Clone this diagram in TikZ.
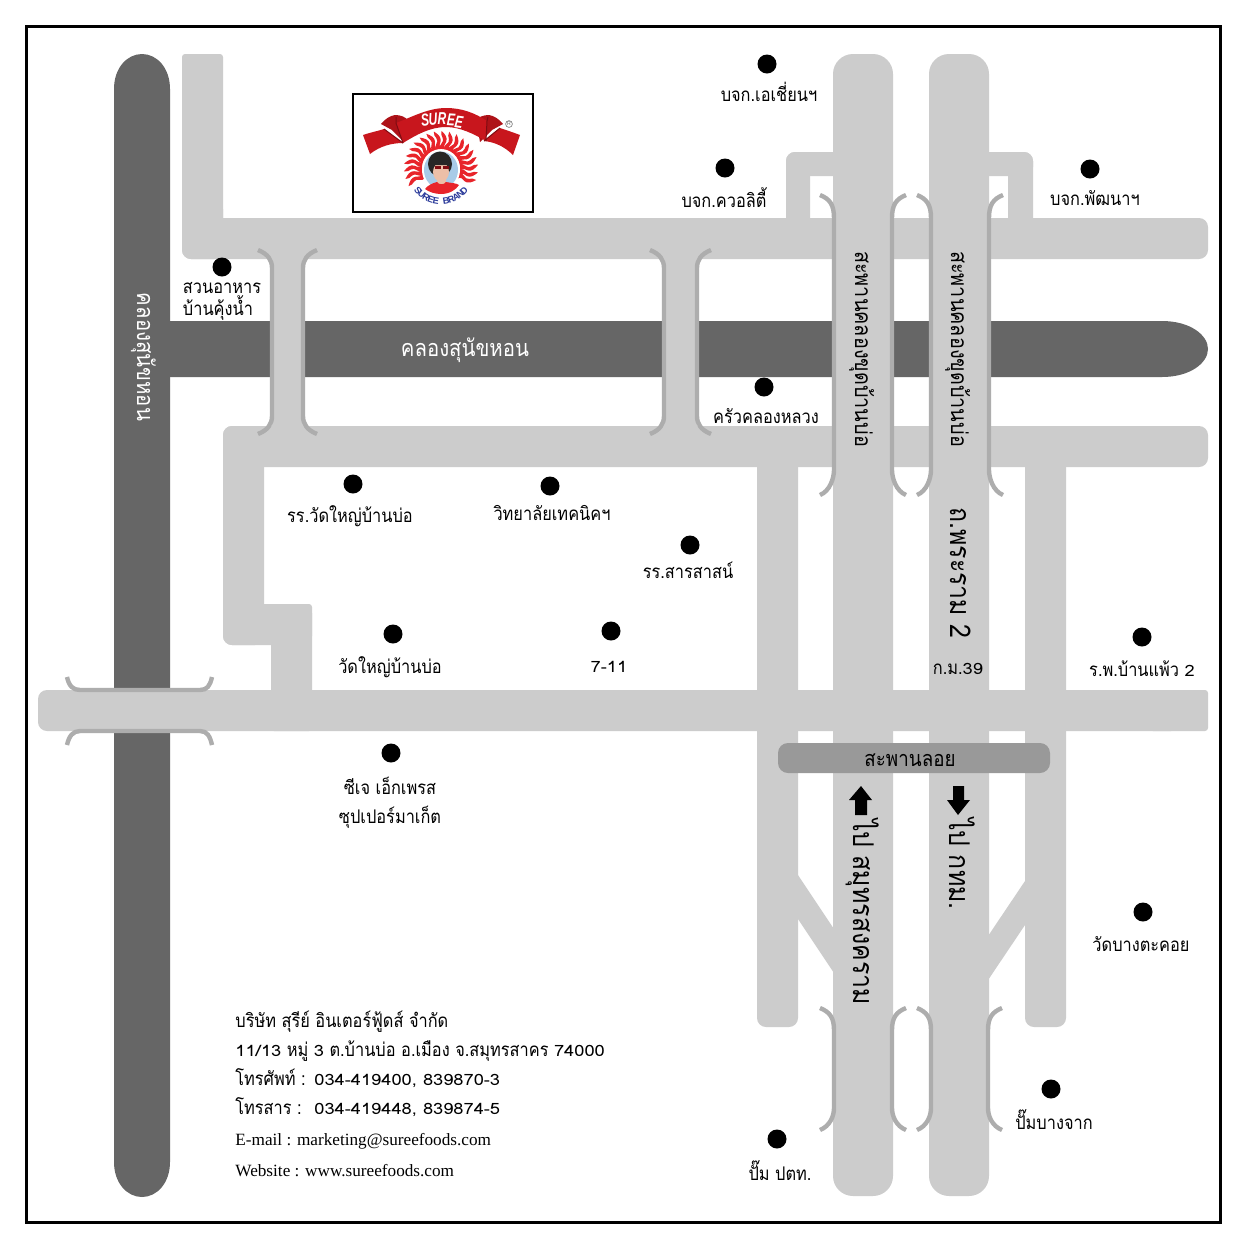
\documentclass[tikz,border=0pt]{standalone}
\usepackage{fontspec}
\setmainfont[Script=Thai,FakeStretch=0.87]{Loma}
\newfontfamily\digitfont[Script=Thai,FakeStretch=1.17]{Loma}
\newfontfamily\logofont{Liberation Sans}
\newfontfamily\latinfont{Liberation Serif}
\newcommand{\dgt}[1]{{\digitfont\fontsize{7.8}{9}\selectfont #1}}
\definecolor{roadc}{HTML}{CCCCCC}
\definecolor{canalc}{HTML}{666666}
\definecolor{brc}{HTML}{ADADAD}
\definecolor{flyc}{HTML}{999999}
\definecolor{ribbonc}{HTML}{C8161D}
\definecolor{ribbonm}{HTML}{AE1218}
\definecolor{ribbond}{HTML}{7E0C12}
\definecolor{flamec}{HTML}{E8242A}
\definecolor{brandc}{HTML}{2A3A9A}
\definecolor{skyc}{HTML}{A8CBE8}
\definecolor{skinc}{HTML}{EDBFA8}
\tikzset{
  road/.style={fill=roadc,rounded corners=4.5pt},
  tinyroad/.style={fill=roadc,rounded corners=1.5pt},
  mainroad/.style={fill=roadc,rounded corners=10pt},
  canal/.style={fill=canalc},
  bracket/.style={draw=brc,line width=2.2pt,fill=none},
  dot/.style={circle,fill=black,minimum size=9.5pt,inner sep=0pt},
  lab/.style={anchor=base,inner sep=0pt,font=\fontsize{9.4}{9.4}\selectfont,text=black},
  addr/.style={anchor=base west,inner sep=0pt,font=\fontsize{9.4}{9.4}\selectfont,text=black},
  addrl/.style={anchor=base west,inner sep=0pt,font=\latinfont\fontsize{8.6}{8.6}\selectfont,text=black},
  vlab/.style={anchor=base,inner sep=0pt,rotate=-90,text=black,font=\fontsize{14.3}{14.3}\selectfont},
  brlab/.style={vlab,font=\fontsize{11.4}{11.4}\selectfont},
  wlab/.style={text=white,font=\fontsize{11.7}{11.7}\selectfont},
}
\newcommand{\vbridge}[6]{%
  \draw[bracket] ({#1-14},#3) .. controls ({#1-4},{#3+4}) and (#1,{#3+10}) .. (#1,#4) -- (#1,#5) .. controls (#1,{#5+8}) and ({#1-4},{#6-4}) .. ({#1-14},#6);
  \draw[bracket] ({#2+14},#3) .. controls ({#2+4},{#3+4}) and (#2,{#3+10}) .. (#2,#4) -- (#2,#5) .. controls (#2,{#5+8}) and ({#2+4},{#6-4}) .. ({#2+14},#6);
}
\begin{document}
\begin{tikzpicture}[x=0.5pt,y=-0.5pt]
\path[use as bounding box,fill=white] (0,0) rectangle (1250,1250);
% canals
\fill[canal] (170,321) -- (1162,321) .. controls (1190,321) and (1208,335) .. (1208,349) .. controls (1208,363) and (1190,377) .. (1162,377) -- (170,377) -- cycle;
\fill[canal] (114,89) .. controls (114,68) and (127,54) .. (142,54) .. controls (157,54) and (170,68) .. (170,89) -- (170,1162) .. controls (170,1183) and (157,1197) .. (142,1197) .. controls (127,1197) and (114,1183) .. (114,1162) -- cycle;
% roads
\fill[tinyroad] (182,54) rectangle (223,240);
\fill[road] (182,200) rectangle (223,259);
\fill[road] (182,218) rectangle (1208,259);
\fill[road] (223,426) rectangle (1208,467);
\fill[road] (223,426) rectangle (264,645);
\fill[road] (223,604) rectangle (312,645);
\fill[tinyroad] (271,604) rectangle (312,731);
\fill[road] (38,690) rectangle (1180,731);
\fill[tinyroad] (1150,690) rectangle (1208,731);
\fill[road] (757,440) rectangle (798,1027);
\fill[road] (1025,440) rectangle (1066,1027);
\fill[road] (786,152) rectangle (850,176);
\fill[road] (786,152) rectangle (810,235);
\fill[road] (970,152) rectangle (1033,176);
\fill[road] (1008,152) rectangle (1033,235);
\fill[roadc] (798,875) -- (840,938) -- (840,982) -- (798,919) -- cycle;
\fill[roadc] (1025,881) -- (980,948) -- (980,992) -- (1025,925) -- cycle;
\fill[mainroad] (833,54) rectangle (893,1196);
\fill[mainroad] (929,54) rectangle (989,1196);
\fill[roadc] (272,250) rectangle (304,434);
\fill[roadc] (663,250) rectangle (697,434);
% bridge brackets
\vbridge{272}{303}{250}{268}{416}{434}
\vbridge{664}{697}{250}{268}{416}{434}
\vbridge{834}{892}{195}{218}{470}{495}
\vbridge{931}{989}{195}{218}{470}{495}
\vbridge{834}{892}{1008}{1030}{1108}{1130}
\vbridge{931}{988}{1008}{1030}{1108}{1130}
\draw[bracket] (67,677) .. controls (69,686) and (73,690) .. (80,690) -- (200,690) .. controls (207,690) and (210,686) .. (212,677);
\draw[bracket] (67,745) .. controls (69,736) and (73,731) .. (80,731) -- (200,731) .. controls (207,731) and (210,736) .. (212,745);
% floating bridge
\fill[flyc,rounded corners=5pt] (778,743) rectangle (1050,773);
\node[lab,font=\fontsize{10.8}{10.8}\selectfont] (fly) at (910,766) {สะพานลอย};
% arrows
\fill[black] (861,786) -- (872,800) -- (867,800) -- (867,815) -- (855,815) -- (855,800) -- (849,800) -- cycle;
\fill[black] (953,786) -- (964,786) -- (964,800) -- (970,800) -- (958,815) -- (947,800) -- (953,800) -- cycle;
% labels on canals
\node[lab,wlab] (canalh) at (465,356) {คลองสุนัขหอน};
\node[vlab,wlab] (canalv) at (137,357) {คลองสุนัขหอน};
% labels on main roads
\node[brlab] (br1) at (855,349) {สะพานคลองขุดบ้านบ่อ};
\node[brlab] (br2) at (951,349) {สะพานคลองขุดบ้านบ่อ};
\node[vlab] (rama) at (950,573) {ถ.พระราม 2};
\node[vlab] (tosk) at (853,912) {ไป สมุทรสงคราม};
\node[vlab] (tobk) at (949,864) {ไป กทม.};
% dots
\foreach \n/\x/\y in {a/767/64,b/725/168,c/1090/169,d/222/267,e/764/387,f/353/484,g/550/486,h/690/545,i/393/634,j/611/631,k/1142/637,l/391/753,m/1143/912,n/1051/1089,o/777/1139}
  \node[dot] (dot\n) at (\x,\y) {};
% place labels
\node[lab] (la) at (769,101) {บจก.เอเชี่ยนฯ};
\node[lab] (lb) at (724,207) {บจก.ควอลิตี้};
\node[lab] (lc) at (1095,205) {บจก.พัฒนาฯ};
\node[lab] (ld1) at (222,293) {สวนอาหาร};
\node[lab] (ld2) at (218,315) {บ้านคุ้งน้ำ};
\node[lab] (le) at (766,423) {ครัวคลองหลวง};
\node[lab] (lf) at (350,522) {รร.วัดใหญ่บ้านบ่อ};
\node[lab] (lg) at (552,520) {วิทยาลัยเทคนิคฯ};
\node[lab] (lh) at (688,578) {รร.สารสาสน์};
\node[lab] (li) at (390,673) {วัดใหญ่บ้านบ่อ};
\node[lab] (lj) at (609,672) {\dgt{7-11}};
\node[lab] (lkm) at (958,674) {ก.ม.\dgt{39}};
\node[lab] (lk) at (1142,676) {ร.พ.บ้านแพ้ว \dgt{2}};
\node[lab] (ll1) at (390,794) {ซีเจ เอ็กเพรส};
\node[lab] (ll2) at (390,823) {ซุปเปอร์มาเก็ต};
\node[lab] (lm) at (1141,951) {วัดบางตะคอย};
\node[lab] (ln) at (1054,1129) {ปั๊มบางจาก};
\node[lab] (lo) at (780,1180) {ปั๊ม ปตท.};
% address
\node[addr] (ad1) at (235,1027) {บริษัท สุรีย์ อินเตอร์ฟู้ดส์ จำกัด};
\node[addr] (ad2) at (235,1056) {\dgt{11/13} หมู่ \dgt{3} ต.บ้านบ่อ อ.เมือง จ.สมุทรสาคร \dgt{74000}};
\node[addr] (ad3) at (235,1085) {โทรศัพท์ :};
\node[addr] (ad3n) at (314,1085) {\dgt{034-419400, 839870-3}};
\node[addr] (ad4) at (235,1114) {โทรสาร :};
\node[addr] (ad4n) at (314,1114) {\dgt{034-419448, 839874-5}};
\node[addrl] (ad5) at (235,1145) {E-mail : marketing@sureefoods.com};
\node[addrl] (ad6) at (235,1176) {Website : www.sureefoods.com};
% logo
\draw[black,line width=1pt,fill=white] (353,94) rectangle (533,212);
\foreach \a in {-25,-13,...,205}{
  \begin{scope}[shift={(441,168)},rotate=\a]
    \fill[flamec] (19,-3) .. controls (23,-6) and (26,1) .. (30,-2) .. controls (32,-3) and (34,-5) .. (37,-4) .. controls (34,0) and (31,3) .. (27,2) .. controls (24,1) and (22,-1) .. (19,3) -- cycle;
  \end{scope}
}
% ribbon
\fill[ribbonm] (381,124) .. controls (386,118) and (390,116) .. (395,115) .. controls (401,115) and (405,117) .. (408,120) -- (404,142) -- (392,130) -- cycle;
\fill[ribbonm] (503,124) .. controls (498,118) and (494,116) .. (489,115) .. controls (483,115) and (479,117) .. (476,120) -- (480,142) -- (492,130) -- cycle;
\fill[ribbonc] (363,135) .. controls (372,132) and (378,131) .. (384,129) -- (403,143) .. controls (392,143) and (380,146) .. (370,154) -- cycle;
\fill[ribbonc] (520,135) .. controls (512,132) and (506,130) .. (500,128) -- (484,141) .. controls (494,142) and (504,146) .. (513,155) -- cycle;
\fill[ribbonc] (396,123) .. controls (412,117) and (428,108) .. (446,108) .. controls (462,108) and (475,113) .. (487,121) -- (486,141) .. controls (474,134) and (460,127) .. (446,127) .. controls (430,127) and (416,135) .. (403,143) -- cycle;
\draw[ribbond,line width=0.5pt] (384,129) -- (403,143);
\draw[ribbond,line width=0.5pt] (396,117) -- (396,123) -- (403,143);
\draw[ribbond,line width=0.5pt] (500,128) -- (484,141);
\draw[ribbond,line width=0.5pt] (488,117) -- (487,121) -- (486,141);
\foreach \c/\x/\y/\r/\n in {S/425/120/8/s1,U/433/119/5/s2,R/442/119/0/s3,E/451/120/-4/s4,E/459/122/-8/s5}
  \node[inner sep=0pt,text=white,font=\logofont\bfseries\itshape\fontsize{8.6}{8.6}\selectfont,rotate=\r,xscale=0.7] (\n) at (\x,\y) {\c};
\node[draw=black!55,circle,line width=0.3pt,minimum size=3.4pt,inner sep=0pt,text=black!60,font=\logofont\fontsize{2.6}{2.6}\selectfont] (reg) at (509,124) {R};
% portrait
\fill[white] (441,170) ellipse [x radius=19,y radius=20];
\begin{scope}
  \clip (441,170) ellipse [x radius=17,y radius=18.5];
  \fill[skyc] (420,148) rectangle (462,192);
  \fill[black!85] (440,164) ellipse [x radius=12,y radius=12.5];
  \fill[skinc] (441,172) ellipse [x radius=8,y radius=9.5];
  \fill[black!85] (432,160) .. controls (438,163) and (446,163) .. (450,160) -- (450,165) -- (433,165) -- cycle;
  \fill[ribbond] (435,166) rectangle (441,169);
  \fill[ribbond] (443,166) rectangle (449,169);
  \fill[skinc] (437,178) rectangle (446,186);
\end{scope}
\fill[flamec] (425,189) .. controls (428,185) and (433,183) .. (437,182) .. controls (439,185) and (444,185) .. (446,182) .. controls (451,183) and (456,183) .. (459,185) .. controls (456,190) and (449,194) .. (441,194) .. controls (435,194) and (429,192) .. (425,189) -- cycle;
\foreach \c/\ang/\n in {S/222/b1,U/231.6/b2,R/241.2/b3,E/250.8/b4,E/260.4/b5,B/279.6/b6,R/289.2/b7,A/298.8/b8,N/308.4/b9,D/318/b10}
  \node[inner sep=0pt,text=brandc,font=\logofont\bfseries\fontsize{4.6}{4.6}\selectfont,rotate=\ang+90] (\n) at ([shift={(\ang:15.5pt)}]441,170) {\c};
% frame
\draw[black,line width=1.5pt] (26,26) rectangle (1220,1222);
\end{tikzpicture}
\end{document}
